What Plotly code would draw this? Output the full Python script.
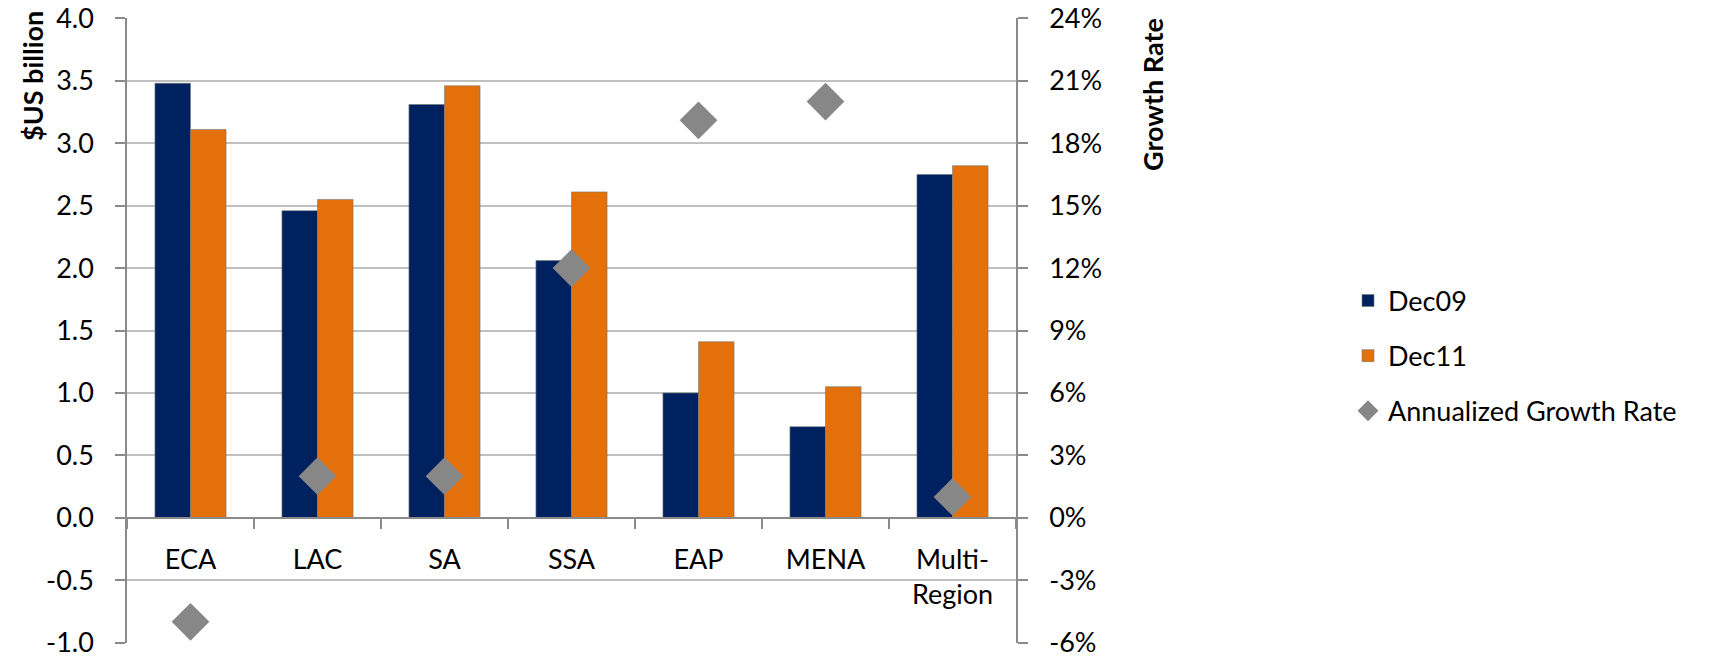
import plotly.graph_objects as go

categories = ["ECA", "LAC", "SA", "SSA", "EAP", "MENA", "Multi-<br>Region"]
dec09 = [3.48, 2.46, 3.31, 2.06, 1.00, 0.73, 2.75]
dec11 = [3.11, 2.55, 3.46, 2.61, 1.41, 1.05, 2.82]
growth = [-5.0, 2.0, 2.0, 12.0, 19.1, 20.0, 1.0]

left_ticks = [-1.0, -0.5, 0.0, 0.5, 1.0, 1.5, 2.0, 2.5, 3.0, 3.5, 4.0]
right_ticks = [-6, -3, 0, 3, 6, 9, 12, 15, 18, 21, 24]

FONT = "Lato"
FS = 27
NAVY = "#00215F"
ORANGE = "#E4700B"
GRAY = "#878787"
AXIS = "#8A8A8A"
GRID = "#C0C0C0"

fig = go.Figure()
fig.add_trace(go.Bar(x=categories, y=dec09, name="Dec09", marker_color=NAVY,
                     marker_line=dict(color="rgba(120,120,120,0.6)", width=1),
                     legendgroup="a", yaxis="y"))
fig.add_trace(go.Bar(x=categories, y=dec11, name="Dec11", marker_color=ORANGE,
                     marker_line=dict(color="rgba(120,120,120,0.6)", width=1),
                     legendgroup="b", yaxis="y"))
fig.add_trace(go.Scatter(x=categories, y=growth, name="Annualized Growth Rate",
                         mode="markers", yaxis="y2", legendgroup="c",
                         marker=dict(symbol="diamond", size=29, color=GRAY,
                                     line=dict(width=0))))

W, H = 1710, 661
L, R, T, B = 127, 1710 - 1016, 18, 18
pw = W - L - R
ph = H - T - B

def px_x(x):
    return (x - L) / pw

def px_y(y):
    return (H - B - y) / ph

# tiny padding so the edge gridlines (at -1.0 and 4.0) are drawn
eps = 0.003
y_range = [left_ticks[0] - eps, left_ticks[-1] + eps]
scale = right_ticks[-1] / left_ticks[-1]
y2_range = [y_range[0] * scale, y_range[1] * scale]

fig.update_layout(
    width=W, height=H,
    margin=dict(l=L, r=R, t=T, b=B, pad=0, autoexpand=False),
    paper_bgcolor="white", plot_bgcolor="white",
    font=dict(family=FONT, size=FS, color="#000000"),
    barmode="group", bargap=0.44, bargroupgap=0,
    showlegend=True,
    legend=dict(x=px_x(1348), y=px_y(356), xanchor="left", yanchor="middle",
                traceorder="grouped", tracegroupgap=17,
                font=dict(family=FONT, size=FS), bgcolor="rgba(0,0,0,0)",
                itemwidth=30),
    xaxis=dict(type="category", anchor="free", position=0.2, automargin=False,
               showline=True, linecolor=AXIS, linewidth=1.5,
               ticks="outside", tickson="boundaries", ticklen=10,
               tickcolor=AXIS, tickwidth=1.5, showgrid=False,
               ticklabelstandoff=18,
               tickfont=dict(family=FONT, size=FS)),
    yaxis=dict(range=y_range, tickvals=left_ticks, automargin=False,
               ticktext=[f"{v:.1f}" for v in left_ticks],
               showline=True, linecolor=AXIS, linewidth=1.5,
               ticks="outside", ticklen=10, tickcolor=AXIS, tickwidth=1.5,
               showgrid=True, gridcolor=GRID, gridwidth=1.5,
               zeroline=False, ticklabelstandoff=16,
               ticklabeloverflow="allow",
               tickfont=dict(family=FONT, size=FS)),
    yaxis2=dict(range=y2_range, tickvals=right_ticks, automargin=False,
                ticktext=[f"{v}%" for v in right_ticks],
                overlaying="y", side="right", anchor="x",
                showline=True, linecolor=AXIS, linewidth=1.5,
                ticks="outside", ticklen=10, tickcolor=AXIS, tickwidth=1.5,
                showgrid=False, zeroline=False, ticklabelstandoff=16,
                ticklabeloverflow="allow",
                tickfont=dict(family=FONT, size=FS)),
    annotations=[
        dict(text="<b>$US billion</b>", xref="paper", yref="paper",
             x=px_x(32), y=px_y(76), xanchor="center", yanchor="middle",
             textangle=-90, showarrow=False,
             font=dict(family=FONT, size=FS, color="#000000")),
        dict(text="<b>Growth Rate</b>", xref="paper", yref="paper",
             x=px_x(1153), y=px_y(95), xanchor="center", yanchor="middle",
             textangle=-90, showarrow=False,
             font=dict(family=FONT, size=FS, color="#000000")),
    ],
)

fig.write_html("out.html", config={"displayModeBar": False},
               post_script="document.body.style.margin='0';document.body.style.overflow='hidden';")
